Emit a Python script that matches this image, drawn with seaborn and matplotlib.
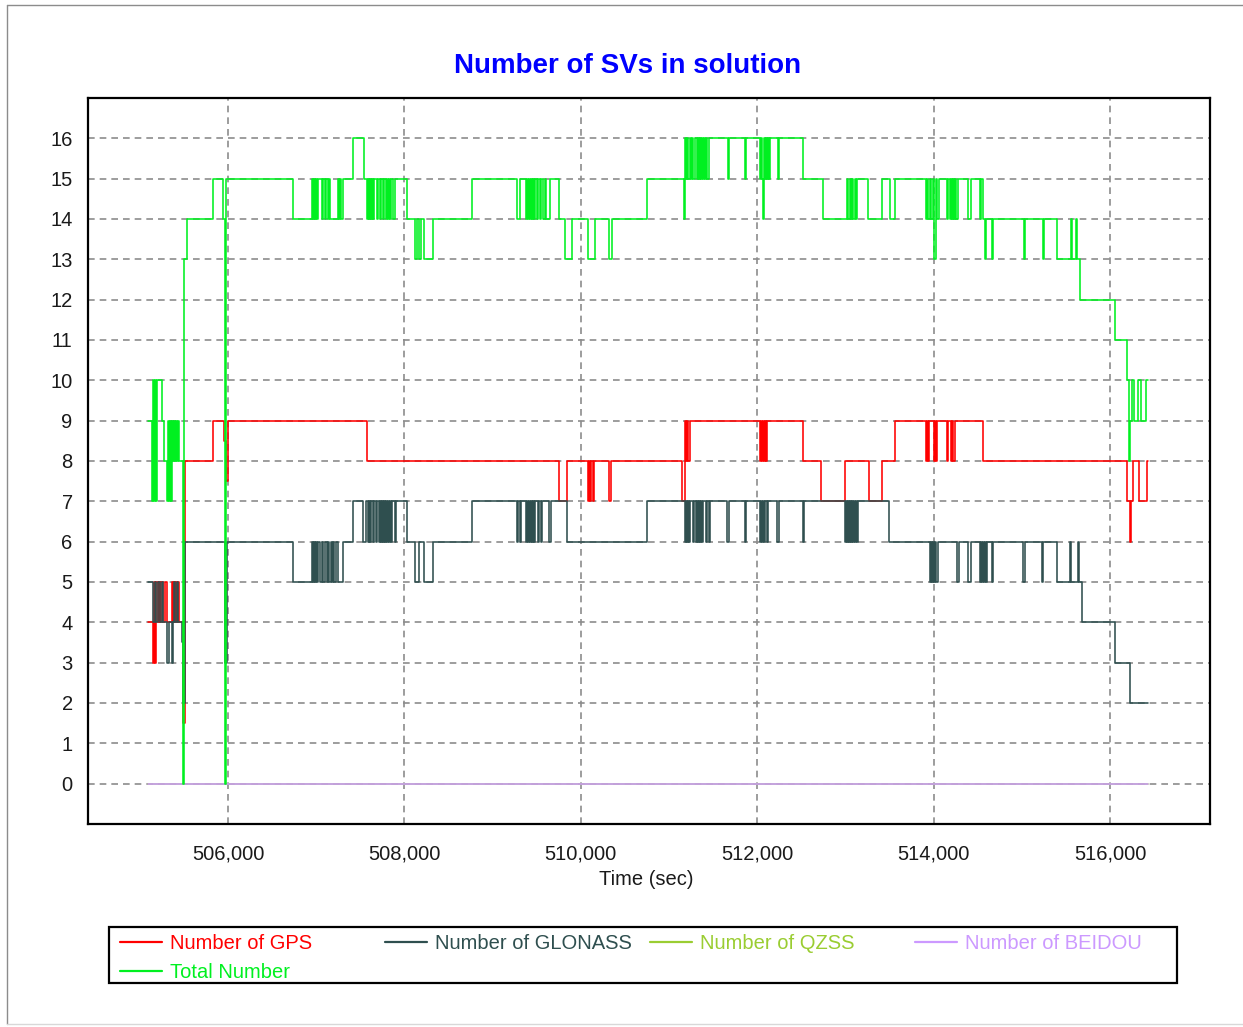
import matplotlib
matplotlib.use("Agg")
import matplotlib.pyplot as plt
from matplotlib.ticker import MultipleLocator, FuncFormatter
from matplotlib.lines import Line2D
from matplotlib.patches import Rectangle
import pandas as pd
import seaborn as sns

# change points (time in sec, count), drawn as steps
gps_t = [505093, 505150, 505161, 505172, 505184, 505206, 505218, 505229, 505240, 505263,
         505286, 505308, 505365, 505376, 505388, 505399, 505410, 505422, 505433, 505444,
         505490, 505512, 505830, 505955, 505977, 506000, 507576, 509753, 509844, 510082,
         510093, 510104, 510116, 510138, 510149, 510320, 510342, 511147, 511181, 511193,
         511204, 511215, 511238, 512032, 512043, 512054, 512066, 512077, 512088, 512100,
         512111, 512519, 512723, 512996, 513268, 513415, 513562, 513914, 513925, 513937,
         513948, 514005, 514016, 514027, 514039, 514152, 514163, 514198, 514209, 514220,
         514243, 514560, 516193, 516227, 516238, 516261, 516329, 516420]
gps_v = [4, 3, 5, 3, 5, 4, 5, 4, 5, 4,
         5, 4, 5, 4, 5, 4, 5, 4, 5, 4,
         1.5, 8, 9, 8.5, 7.5, 9, 8, 7, 8, 7,
         8, 7, 8, 7, 8, 7, 8, 7, 9, 8,
         9, 8, 9, 8, 9, 8, 9, 8, 9, 8,
         9, 8, 7, 8, 7, 8, 9, 8, 9, 8,
         9, 8, 9, 8, 9, 8, 9, 8, 9, 8,
         9, 8, 7, 6, 7, 8, 7, 8]

glo_t = [505093, 505150, 505172, 505184, 505206, 505229, 505252, 505263, 505308, 505331,
         505365, 505376, 505388, 505399, 505422, 505433, 505478, 505490, 505512, 505966,
         505989, 506737, 506952, 506964, 506975, 506986, 506998, 507009, 507020, 507043,
         507066, 507077, 507100, 507122, 507134, 507145, 507168, 507179, 507190, 507202,
         507225, 507247, 507304, 507417, 507531, 507565, 507587, 507599, 507610, 507621,
         507644, 507655, 507678, 507689, 507712, 507723, 507735, 507746, 507757, 507769,
         507780, 507791, 507803, 507814, 507825, 507837, 507848, 507859, 507893, 507905,
         508030, 508120, 508166, 508222, 508324, 508766, 509277, 509288, 509311, 509322,
         509379, 509390, 509401, 509413, 509424, 509435, 509447, 509458, 509469, 509481,
         509515, 509526, 509549, 509560, 509639, 509662, 509844, 510751, 511181, 511193,
         511204, 511215, 511227, 511238, 511272, 511283, 511306, 511317, 511329, 511340,
         511352, 511363, 511374, 511386, 511420, 511431, 511454, 511465, 511658, 511680,
         511862, 511873, 512032, 512043, 512054, 512066, 512077, 512088, 512111, 512123,
         512225, 512247, 512519, 512531, 512996, 513007, 513018, 513030, 513041, 513052,
         513064, 513075, 513086, 513098, 513109, 513120, 513132, 513143, 513494, 513959,
         513971, 513982, 513993, 514005, 514016, 514027, 514050, 514265, 514288, 514390,
         514424, 514526, 514537, 514549, 514560, 514572, 514583, 514594, 514606, 514662,
         514674, 515014, 515036, 515229, 515240, 515399, 515547, 515558, 515637, 515649,
         515683, 516057, 516227]
glo_v = [5, 4, 5, 4, 5, 4, 5, 4, 3, 4,
         3, 4, 5, 4, 5, 4, 3.5, 2, 6, 3,
         6, 5, 6, 5, 6, 5, 6, 5, 6, 5,
         6, 5, 6, 5, 6, 5, 6, 5, 6, 5,
         6, 5, 6, 7, 6, 7, 6, 7, 6, 7,
         6, 7, 6, 7, 6, 7, 6, 7, 6, 7,
         6, 7, 6, 7, 6, 7, 6, 7, 6, 7,
         6, 5, 6, 5, 6, 7, 6, 7, 6, 7,
         6, 7, 6, 7, 6, 7, 6, 7, 6, 7,
         6, 7, 6, 7, 6, 7, 6, 7, 6, 7,
         6, 7, 6, 7, 6, 7, 6, 7, 6, 7,
         6, 7, 6, 7, 6, 7, 6, 7, 6, 7,
         6, 7, 6, 7, 6, 7, 6, 7, 6, 7,
         6, 7, 6, 7, 6, 7, 6, 7, 6, 7,
         6, 7, 6, 7, 6, 7, 6, 7, 6, 5,
         6, 5, 6, 5, 6, 5, 6, 5, 6, 5,
         6, 5, 6, 5, 6, 5, 6, 5, 6, 5,
         6, 5, 6, 5, 6, 5, 6, 5, 6, 5,
         4, 3, 2]

tot_t = [505093, 505138, 505150, 505161, 505172, 505184, 505195, 505252, 505274, 505308,
         505320, 505331, 505342, 505354, 505365, 505376, 505388, 505399, 505410, 505422,
         505433, 505444, 505490, 505501, 505535, 505830, 505943, 505966, 505977, 506737,
         506952, 506964, 506975, 506986, 506998, 507009, 507020, 507066, 507077, 507100,
         507111, 507134, 507145, 507156, 507247, 507259, 507270, 507281, 507304, 507417,
         507542, 507576, 507587, 507599, 507610, 507621, 507633, 507644, 507655, 507689,
         507701, 507723, 507735, 507757, 507769, 507791, 507803, 507814, 507825, 507837,
         507848, 507871, 507893, 508030, 508120, 508143, 508166, 508188, 508222, 508324,
         508766, 509277, 509311, 509379, 509390, 509401, 509413, 509424, 509435, 509447,
         509458, 509469, 509481, 509503, 509515, 509537, 509549, 509571, 509594, 509605,
         509651, 509753, 509821, 509900, 510082, 510161, 510320, 510354, 510751, 511170,
         511181, 511193, 511204, 511215, 511238, 511249, 511261, 511272, 511295, 511317,
         511329, 511340, 511352, 511363, 511374, 511386, 511397, 511408, 511420, 511431,
         511454, 511669, 511680, 511862, 511873, 512032, 512043, 512054, 512066, 512077,
         512088, 512100, 512111, 512123, 512134, 512145, 512236, 512247, 512519, 512746,
         513018, 513030, 513052, 513064, 513075, 513086, 513109, 513120, 513132, 513256,
         513415, 513506, 513562, 513914, 513925, 513937, 513959, 513971, 513993, 514005,
         514027, 514039, 514061, 514152, 514163, 514186, 514198, 514209, 514220, 514232,
         514243, 514254, 514277, 514390, 514424, 514526, 514537, 514560, 514583, 514594,
         514662, 514674, 515025, 515036, 515240, 515252, 515399, 515558, 515569, 515615,
         515626, 515660, 516057, 516193, 516216, 516227, 516250, 516272, 516318, 516352,
         516408]
tot_v = [9, 7, 10, 7, 10, 7, 10, 9, 8, 7,
         9, 7, 9, 7, 9, 8, 9, 8, 9, 8,
         9, 8, 0, 13, 14, 15, 14, 0, 15, 14,
         15, 14, 15, 14, 15, 14, 15, 14, 15, 14,
         15, 14, 15, 14, 15, 14, 15, 14, 15, 16,
         15, 14, 15, 14, 15, 14, 15, 14, 15, 14,
         15, 14, 15, 14, 15, 14, 15, 14, 15, 14,
         15, 14, 15, 14, 13, 14, 13, 14, 13, 14,
         15, 14, 15, 14, 15, 14, 15, 14, 15, 14,
         15, 14, 15, 14, 15, 14, 15, 14, 15, 14,
         15, 14, 13, 14, 13, 14, 13, 14, 15, 14,
         16, 15, 16, 15, 16, 15, 16, 15, 16, 15,
         16, 15, 16, 15, 16, 15, 16, 15, 16, 15,
         16, 15, 16, 15, 16, 15, 16, 15, 14, 16,
         15, 16, 15, 16, 15, 16, 15, 16, 15, 14,
         15, 14, 15, 14, 15, 14, 15, 14, 15, 14,
         15, 14, 15, 14, 15, 14, 15, 14, 15, 13,
         15, 14, 15, 14, 15, 14, 15, 14, 15, 14,
         15, 14, 15, 14, 15, 14, 15, 14, 13, 14,
         13, 14, 13, 14, 13, 14, 13, 14, 13, 14,
         13, 12, 11, 10, 8, 9, 10, 9, 10, 9,
         10]

qzss_t = [505093]
qzss_v = [0]
bds_t = [505093]
bds_v = [0]
t_end = 516431

names = ["Number of GPS", "Number of GLONASS", "Number of QZSS", "Number of BEIDOU", "Total Number"]
colors = ["#FF0000", "#2F4F4F", "#9ACD32", "#CC99FF", "#00F020"]
x_ticks = [506000, 508000, 510000, 512000, 514000, 516000]
y_ticks = list(range(0, 17))


def steps(t, v, name):
    t = list(t) + [t_end]
    v = list(v) + [v[-1]]
    return pd.DataFrame({"time": t, "count": v, "series": name})


frames = [steps(gps_t, gps_v, names[0]), steps(glo_t, glo_v, names[1]),
          steps(qzss_t, qzss_v, names[2]), steps(bds_t, bds_v, names[3]),
          steps(tot_t, tot_v, names[4])]

sns.set_style("white")
plt.rcParams["font.family"] = ["Liberation Sans", "DejaVu Sans"]

fig = plt.figure(figsize=(12.43, 10.27), dpi=100)
ax = fig.add_axes([0.0708, 0.1977, 0.9027, 0.7069])

for df, c in zip(frames, colors):
    sns.lineplot(data=df, x="time", y="count", color=c, drawstyle="steps-post",
                 estimator=None, sort=False, lw=1.15, ax=ax, legend=False)

ax.set_xlim(504413, 517134)
ax.set_ylim(-1, 17)
ax.set_xticks(x_ticks)
ax.set_yticks(y_ticks)
ax.xaxis.set_minor_locator(MultipleLocator(400))
ax.yaxis.set_minor_locator(MultipleLocator(0.2))
ax.xaxis.set_major_formatter(FuncFormatter(lambda v, p: "{:,.0f}".format(v)))
ax.set_xlabel("")
ax.set_ylabel("")
ax.grid(True, which="major", color="#8c8c8c", linestyle=(0, (4, 3)), linewidth=1.2)
ax.tick_params(which="major", direction="inout", length=10, width=1, colors="black",
               labelsize=14.5, labelcolor="#1a1a1a")
ax.tick_params(axis="x", which="major", pad=10)
ax.tick_params(axis="y", which="major", pad=6)
ax.tick_params(which="minor", direction="out", length=4, width=0.8, colors="black")
for s in ax.spines.values():
    s.set_color("black")
    s.set_linewidth(1.6)
    s.set_visible(True)

fig.text(0.5045, 0.936, "Number of SVs in solution", ha="center", va="center",
         color="#0000FF", fontsize=20, fontweight="bold")
fig.text(0.5197, 0.1441, "Time (sec)", ha="center", va="center", fontsize=14.5,
         color="#1a1a1a")

# legend box with fixed column grid
fig.patches.append(Rectangle((109 / 1243, 1 - 983 / 1027), (1177 - 109) / 1243, 56 / 1027,
                             transform=fig.transFigure, fill=False, edgecolor="black",
                             linewidth=1.6))
cols = [[0, 4], [1], [2], [3]]
col_x = [0.0965, 0.3097, 0.5229, 0.7361]
for idx, cx in zip(cols, col_x):
    handles = [Line2D([], [], color=colors[i], lw=1.6) for i in idx]
    leg = fig.legend(handles, [names[i] for i in idx], loc="upper left",
                     bbox_to_anchor=(cx, 0.0905), frameon=False, fontsize=14.5,
                     borderpad=0, borderaxespad=0, handlelength=2.1, handletextpad=0.4,
                     labelspacing=0.5, labelcolor="linecolor")

# outer frame of the chart window
fig.add_artist(Line2D([7 / 1243, 7 / 1243], [0.003, 1 - 5 / 1027], transform=fig.transFigure,
                      color="#8c8c8c", lw=1))
fig.add_artist(Line2D([7 / 1243, 1.0], [1 - 5 / 1027, 1 - 5 / 1027], transform=fig.transFigure,
                      color="#8c8c8c", lw=1))
fig.add_artist(Line2D([7 / 1243, 1.0], [0.003, 0.003], transform=fig.transFigure,
                      color="#d8d8d8", lw=1))

fig.savefig("out.png", dpi=100)
